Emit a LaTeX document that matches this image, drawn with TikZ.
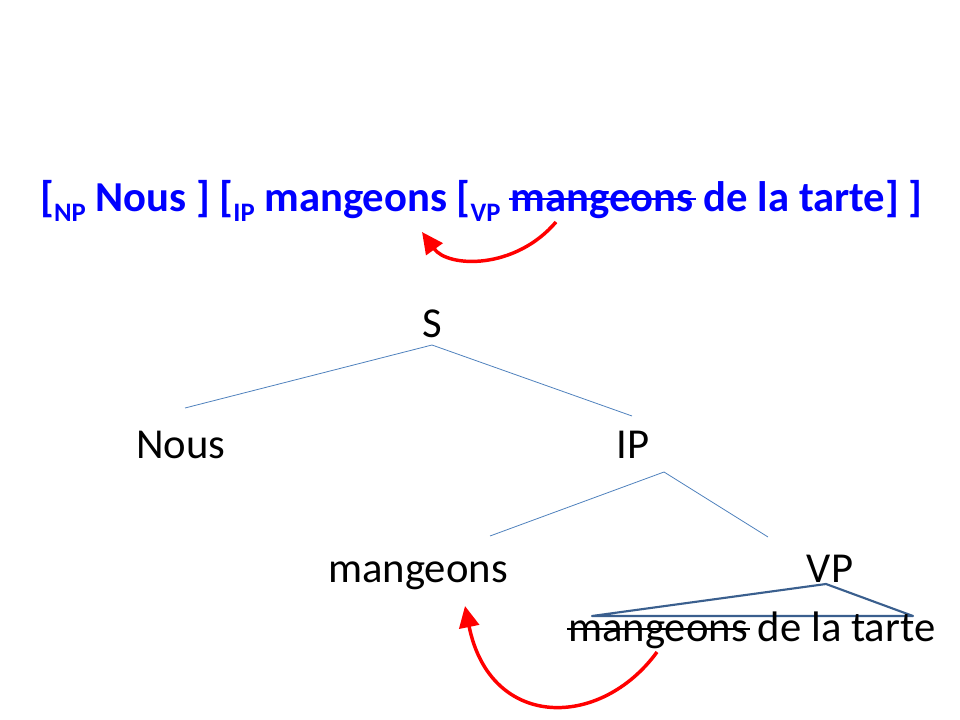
\documentclass[tikz,border=0pt]{standalone}
\usepackage{fontspec}
\setmainfont{Carlito}
\usetikzlibrary{calc,arrows.meta}
\definecolor{branchblue}{HTML}{4F81BD}
\definecolor{triblue}{HTML}{3A5F8E}
\def\movearrow{\draw[red, line width=2.6pt, -{Triangle[length=16pt,width=15pt]}]}
\def\word{\node[anchor=base, inner sep=0pt, font=\fontsize{32}{38}\selectfont]}
\def\bword{\node[anchor=base west, inner sep=0pt, text=blue, font=\bfseries\fontsize{32}{38}\selectfont]}
\newcommand{\lab}[1]{\raisebox{-7pt}{\fontsize{20}{20}\selectfont #1}}

\begin{document}
\begin{tikzpicture}[x=0.75pt,y=-0.75pt]
\useasboundingbox (0,0) rectangle (960,720);

% ---------- bracketed string on top
\bword (head) at (40,212) {[\lab{NP} Nous ] [\lab{IP} mangeons [\lab{VP}\ \null};
\bword (copy) at (head.base east) {mangeons};
\bword (tail) at (copy.base east) {\ de la tarte] ]};
\draw[blue, line width=1.8pt] ($ (copy.base west) + (-2,-13) $) to ($ (copy.base east) + (2,-13) $); % struck copy
\coordinate (top_from) at (556,222);
\coordinate (top_to) at (422,232);
\movearrow (top_from) .. controls (515,270) and (448,268) .. (top_to);

% ---------- the tree
\word (S) at (432,337) {S};
\word (Nous) at (181,458) {Nous};
\word (IP) at (633,458) {IP};
\word (mang) at (418,582) {mangeons};
\word (VP) at (830,582) {VP};

\coordinate (S_foot) at ($ (S.base) + (0,8) $);
\coordinate (Nous_top) at ($ (Nous.base) + (4,-50) $);
\coordinate (IP_top) at ($ (IP.base) + (-1,-42) $);
\coordinate (IP_foot) at ($ (IP.base) + (31,14) $);
\coordinate (mang_top) at ($ (mang.base) + (72,-46) $);
\coordinate (VP_top) at ($ (VP.base) + (-62,-45) $);
\draw[branchblue, line width=0.6pt] (S_foot) to (Nous_top);
\draw[branchblue, line width=0.6pt] (S_foot) to (IP_top);
\draw[branchblue, line width=0.6pt] (IP_foot) to (mang_top);
\draw[branchblue, line width=0.6pt] (IP_foot) to (VP_top);

% ---------- VP triangle and its yield
\coordinate (apex) at ($ (VP.base) + (-4,2) $);
\coordinate (tri_left) at (592,616);
\coordinate (tri_right) at (913,616);
\draw[triblue, line width=1.6pt, line join=round] (apex) to (tri_left) to (tri_right) to cycle;

\node[anchor=base west, inner sep=0pt, font=\fontsize{32}{38}\selectfont] (trace) at (568,641) {mangeons};
\node[anchor=base west, inner sep=0pt, font=\fontsize{32}{38}\selectfont] (rest) at (trace.base east) {\ de la tarte};
\draw[black, line width=1.8pt] ($ (trace.base west) + (-1,-12) $) to ($ (trace.base east) + (2,-12) $); % struck copy

\coordinate (low_from) at (657,652);
\coordinate (low_to) at (465,606);
\movearrow (low_from) .. controls (600,730) and (490,730) .. (low_to);
\end{tikzpicture}
\end{document}
